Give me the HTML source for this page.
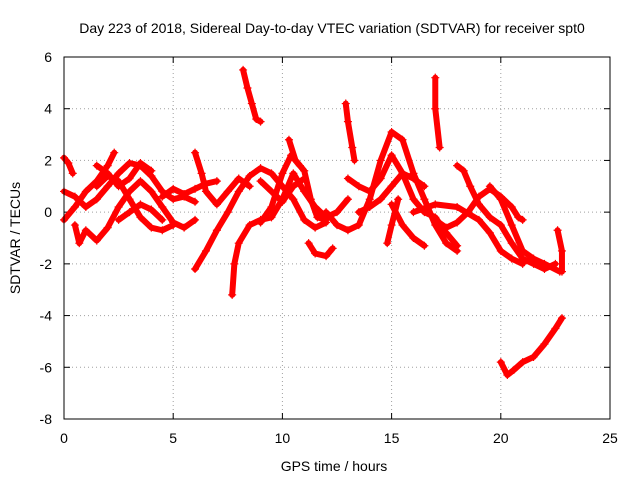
<!DOCTYPE html>
<html><head><meta charset="utf-8"><style>
body{margin:0;background:#fff}
svg{font-family:"Liberation Sans",Arial,sans-serif;font-size:14px}
</style></head><body>
<svg width="640" height="480" xmlns="http://www.w3.org/2000/svg">
<text x="332" y="33" text-anchor="middle">Day 223 of 2018, Sidereal Day-to-day VTEC variation (SDTVAR) for receiver spt0</text>
<g id="grid"></g>
<g id="ticks"></g>
<g id="marks"></g>
<rect x="64" y="57" width="546" height="362" fill="none" stroke="#000"/>
<text x="334" y="471" text-anchor="middle">GPS time / hours</text>
<text transform="translate(20,238) rotate(-90)" text-anchor="middle">SDTVAR / TECUs</text>
</svg>
<script>
const xTicks=[0,5,10,15,20,25];
const yTicks=[6,4,2,0,-2,-4,-6,-8];
const tracks=[
[[0,2.1],[0.2,1.9],[0.4,1.5]],
[[0,-0.3],[0.5,0.2],[1,0.8],[1.5,1.2],[2,1.8],[2.3,2.3]],
[[0,0.8],[0.5,0.6],[1,0.2],[1.5,0.5],[2,1.0],[2.5,1.5],[3,1.9],[3.5,1.8],[4,1.4],[4.5,0.8],[5,0.5],[5.5,0.6],[6,0.4]],
[[0.5,-0.5],[0.7,-1.2],[1,-0.7],[1.5,-1.1],[2,-0.6],[2.5,0.2],[3,0.8],[3.5,1.2],[4,0.8],[4.5,0.2],[5,-0.4],[5.5,-0.6],[6,-0.3]],
[[1.5,1.0],[2,1.4],[2.5,1.2],[3,0.5],[3.5,-0.2],[4,-0.6],[4.5,-0.7],[5,-0.5]],
[[1.5,1.8],[2,1.5],[2.5,1.0],[3,1.3],[3.5,1.9],[4,1.6]],
[[2.5,-0.3],[3,0.0],[3.5,0.3],[4,0.1],[4.5,-0.3]],
[[4.5,0.6],[5,0.9],[5.5,0.7],[6,0.9],[6.5,1.1],[7,1.2]],
[[6,-2.2],[6.5,-1.5],[7,-0.7],[7.5,0],[8,0.8],[8.5,1.4],[9,1.7],[9.5,1.5],[10,1.0],[10.5,0.5],[11,-0.3],[11.5,-0.6],[12,-0.4]],
[[6,2.3],[6.3,1.5],[6.5,0.8],[7,0.3],[7.5,0.8],[8,1.3],[8.5,1.0]],
[[7.7,-3.2],[7.8,-2],[8,-1.2],[8.5,-0.5],[9,-0.3],[9.5,-0.2],[10,0.5],[10.5,1.5],[11,0.8],[11.5,0.2],[12,-0.2],[12.5,0.0],[13,0.5]],
[[8.2,5.5],[8.4,4.8],[8.6,4.2],[8.8,3.6],[9,3.5]],
[[9,1.2],[9.5,0.8],[10,0.4],[10.5,1.0],[11,1.3]],
[[9,-0.4],[9.5,0.2],[10,1.5],[10.4,2.2],[10.8,1.8]],
[[10.3,2.8],[10.6,2.0],[11,1.6],[11.3,0.5],[11.6,-0.2],[12,-0.3]],
[[11.2,-1.2],[11.5,-1.6],[12,-1.7],[12.3,-1.4]],
[[12.9,4.2],[13,3.5],[13.2,2.5],[13.3,2.0]],
[[12,0.0],[12.5,-0.5],[13,-0.7],[13.5,-0.5],[14,0.5],[14.5,2.0],[15,3.1],[15.5,2.8],[16,1.5],[16.5,0.5],[17,-0.5],[17.5,-1.2],[18,-1.5]],
[[13,1.3],[13.5,1.0],[14,0.8],[14.5,1.3],[15,2.2],[15.5,1.5],[16,0.5],[16.5,0.0],[17,-0.2],[17.5,-0.8],[18,-1.3]],
[[13.5,0.0],[14,0.2],[14.5,0.5],[15,1.0],[15.5,1.5],[16,1.3],[16.5,1.0]],
[[15,0.3],[15.5,-0.5],[16,-1.0],[16.5,-1.3]],
[[16,0.0],[17,0.3],[18,0.2],[19,-0.3],[19.5,-0.8],[20,-1.5],[20.5,-1.8],[21,-2.0]],
[[17,5.2],[17,4.0],[17.2,2.5]],
[[18,1.8],[18.3,1.6],[18.6,1.0],[19,0.3],[19.5,-0.2],[20,-0.5],[20.5,-1.2],[21,-1.8],[21.5,-2.0],[22,-2.2],[22.5,-2.0]],
[[17,-0.3],[17.5,-0.6],[18,-0.4],[18.5,0.0],[19,0.6],[19.5,0.9],[20,0.6],[20.5,0.2],[20.8,-0.2],[21,-0.3]],
[[19.5,1.0],[20,0.5],[20.5,-0.5],[21,-1.5],[21.5,-1.8],[22,-2.0],[22.7,-2.3]],
[[22.6,-0.7],[22.8,-1.5],[22.8,-2.3]],
[[20,-5.8],[20.3,-6.3],[20.6,-6.1],[21,-5.8],[21.5,-5.6],[22,-5.1],[22.5,-4.5],[22.8,-4.1]],
[[14.8,-1.2],[15,-0.5],[15.3,0.5]]
];
const NS="http://www.w3.org/2000/svg";
const X=v=>64+v*546/25, Y=v=>57+(6-v)*362/14;
const grid=document.getElementById('grid'),ticks=document.getElementById('ticks'),marks=document.getElementById('marks');
function mk(tag,attrs,parent){const e=document.createElementNS(NS,tag);for(const k in attrs)e.setAttribute(k,attrs[k]);parent.appendChild(e);return e;}
xTicks.forEach(t=>{
 if(t>0&&t<25){const g=mk('line',{x1:X(t),x2:X(t),y1:57,y2:419,stroke:'#a0a0a0','stroke-dasharray':'1,3'},grid);}
 mk('line',{x1:X(t),x2:X(t),y1:419,y2:413,stroke:'#000'},ticks);mk('line',{x1:X(t),x2:X(t),y1:57,y2:63,stroke:'#000'},ticks);
 const l=mk('text',{x:X(t),y:443,'text-anchor':'middle'},ticks);l.textContent=t;
 
 
});
yTicks.forEach(t=>{
 if(t<6&&t>-8){const g=mk('line',{x1:64,x2:610,y1:Y(t),y2:Y(t),stroke:'#a0a0a0','stroke-dasharray':'1,3'},grid);}
 mk('line',{x1:64,x2:70,y1:Y(t),y2:Y(t),stroke:'#000'},ticks);mk('line',{x1:610,x2:604,y1:Y(t),y2:Y(t),stroke:'#000'},ticks);
 const l=mk('text',{x:52,y:Y(t)+5,'text-anchor':'end'},ticks);l.textContent=t;
 
 
});
tracks.forEach(tr=>{
 const p=mk('polyline',{points:tr.map(d=>X(d[0])+','+Y(d[1])).join(' '),fill:'none',stroke:'#f00','stroke-width':6,'stroke-linejoin':'round','stroke-linecap':'round'},marks);
 
 
 tr.forEach(d=>{const x=X(d[0]),y=Y(d[1]);
  const m=mk('path',{d:`M${x-4},${y}H${x+4}M${x},${y-4}V${y+4}`,stroke:'#f00','stroke-width':1.2},marks);
  
  });
});
</script>
</body></html>
